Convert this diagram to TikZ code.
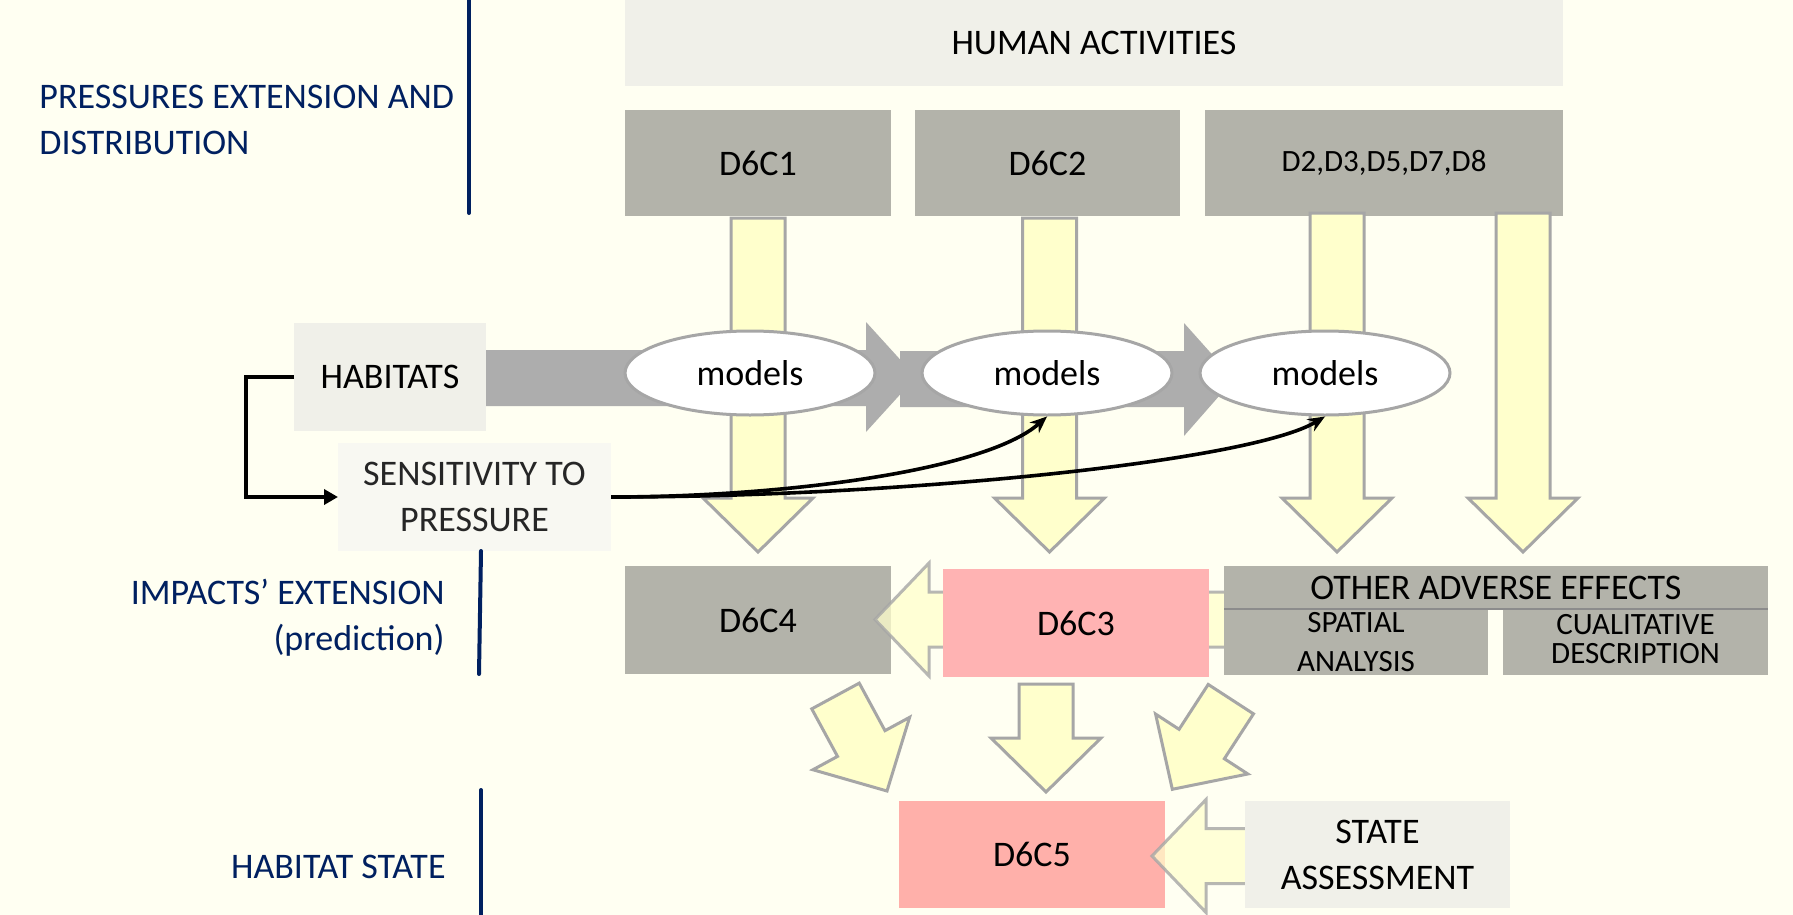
\documentclass[tikz,border=0pt]{standalone}
\usepackage{fontspec}
\setmainfont{Carlito}
\usetikzlibrary{arrows.meta,shapes.geometric}

\definecolor{bgcol}{HTML}{FFFFF2}
\definecolor{lightbox}{HTML}{F0F0E9}
\definecolor{sensfill}{HTML}{F8F8F2}
\definecolor{boxgray}{HTML}{B3B3AA}
\definecolor{pinkA}{HTML}{FFB3B3}
\definecolor{pinkB}{HTML}{FFB0AA}
\definecolor{flowgray}{HTML}{ADADAD}
\definecolor{yfill}{HTML}{FFFFCC}
\definecolor{yedge}{HTML}{A6A6A6}
\definecolor{navy}{HTML}{002060}

% block arrow pointing down: centre x, top y, tip y
\newcommand\vdownarrow[4][]{%
  \draw[yarrow,#1] (#2-27,#3) -- (#2+27,#3) -- (#2+27,#4-54) -- (#2+55,#4-54)
    -- (#2,#4) -- (#2-55,#4-54) -- (#2-27,#4-54) -- cycle;}
% block arrow pointing left: centre y, right x, tip x
\newcommand\hleftarrow[4][]{%
  \draw[yarrow,#1] (#3,#2-27.5) -- (#4+54,#2-27.5) -- (#4+54,#2-56.5)
    -- (#4,#2) -- (#4+54,#2+56.5) -- (#4+54,#2+27.5) -- (#3,#2+27.5) -- cycle;}

\tikzset{
  txt/.style={font=\fontsize{18}{23}\selectfont},
  rbox/.style={txt, inner sep=0pt, outer sep=0pt, align=center},
  graybox/.style={rbox, fill=boxgray},
  palebox/.style={rbox, fill=lightbox},
  small/.style={font=\fontsize{15.5}{19.5}\selectfont},
  model/.style={txt, ellipse, draw=yedge, line width=1.5pt, fill=white,
    minimum width=125pt, minimum height=42pt, inner sep=0pt},
  yarrow/.style={fill=yfill, draw=yedge, line width=1.5pt, line join=miter},
  flow/.style={fill=flowgray, draw=none},
  conn/.style={draw=black, line width=1.8pt},
  navyline/.style={draw=navy, line width=2pt, line cap=round},
  section/.style={txt, text=navy, inner sep=0pt},
}

\begin{document}
\begin{tikzpicture}[x=0.5pt,y=-0.5pt]
\useasboundingbox (0,0) rectangle (1793,915);
\fill[bgcol] (0,0) rectangle (1793,915);

% ---- pressures row
\node[palebox, minimum width=469pt, minimum height=43pt] (human) at (1094,43) {HUMAN ACTIVITIES};
\node[graybox, minimum width=133pt, minimum height=53pt] (d6c1) at (758,163) {D6C1};
\node[graybox, minimum width=132.5pt, minimum height=53pt] (d6c2) at (1047.5,163) {D6C2};
\node[graybox, small, minimum width=179pt, minimum height=53pt] (dother) at (1384,163) {D2,D3,D5,D7,D8};

% pressures flowing down to the impacts row
\vdownarrow{758}{218}{552}
\vdownarrow{1049.5}{218}{552}
\vdownarrow{1337}{213}{552}
\vdownarrow{1523}{213}{552}

% habitats flow through the models
\fill[flow] (486,350) -- (866,350) -- (866,322) -- (916,377) -- (866,432) -- (866,406) -- (486,406) -- cycle;
\fill[flow] (900,351) -- (1184,351) -- (1184,323) -- (1234,379) -- (1184,436) -- (1184,407) -- (900,407) -- cycle;

\node[model] (m1) at (750,373) {models};
\node[model] (m2) at (1047,373) {models};
\node[model] (m3) at (1325,373) {models};

\node[palebox, minimum width=96pt, minimum height=54pt] (hab) at (390,377) {HABITATS};
\node[rbox, fill=sensfill, text=black!85, minimum width=136.5pt, minimum height=54pt] (sens) at (474.5,497) {SENSITIVITY TO\\PRESSURE};

% connectors
\draw[conn, -{Triangle[length=7pt,width=7.5pt]}] (hab.west) -- ++(-48,0) |- (sens.west);
\draw[conn, -{Stealth[length=8.5pt,width=7pt]}] (sens.east) .. controls +(169,0) and +(-62,55) .. (m2.south);
\draw[conn, -{Stealth[length=8.5pt,width=7pt]}] (sens.east) .. controls +(289,0) and +(-75,45) .. (m3.south);

% ---- impacts row
\node[graybox, minimum width=133pt, minimum height=54pt] (d6c4) at (758,620) {D6C4};
\hleftarrow[fill opacity=0.75, draw opacity=0.8]{619.5}{1226}{875}
\node[rbox, fill=pinkA, minimum width=133pt, minimum height=54pt] (d6c3) at (1076,623) {D6C3};
\node[graybox, minimum width=272pt, minimum height=21.5pt] (other) at (1496,587.5) {OTHER ADVERSE EFFECTS};
\node[graybox, small, minimum width=132pt, minimum height=33pt] (spatial) at (1356,642) {SPATIAL\\ANALYSIS};
\node[graybox, font=\fontsize{15.5}{14.5}\selectfont, text depth=3.4pt, minimum width=132.5pt, minimum height=33pt] (cual) at (1635.5,642) {CUALITATIVE\\DESCRIPTION};
\draw[black!45, line width=0.7pt] (other.south west) -- (other.south east);

% impacts converging on the habitat state
\draw[yarrow] (811.76,708.87) -- (837.52,756.40) -- (812.91,769.74) -- (887,791)
  -- (909.61,717.32) -- (885.0,730.66) -- (859.24,683.13) -- cycle;
\vdownarrow{1046}{684}{792}
\draw[yarrow] (1208.21,684.44) -- (1179.07,729.31) -- (1155.59,714.06) -- (1172.3,789.3)
  -- (1247.83,773.98) -- (1224.35,758.73) -- (1253.49,713.86) -- cycle;

% ---- state row
\node[rbox, fill=pinkB, minimum width=133pt, minimum height=53.5pt] (d6c5) at (1032,854.5) {D6C5};
\hleftarrow[fill opacity=0.7, draw opacity=0.8]{856}{1250}{1152}
\node[palebox, minimum width=132.5pt, minimum height=53.5pt] (state) at (1377.5,854.5) {STATE\\ASSESSMENT};

% ---- section labels
\node[section, anchor=north west, align=left] (lab1) at (39,85) {PRESSURES EXTENSION AND\\DISTRIBUTION};
\node[section, anchor=north east, align=right] (lab2) at (445,579) {IMPACTS’ EXTENSION\\(prediction)};
\node[section, anchor=base east] (lab3) at (446,878) {HABITAT STATE};
\draw[navyline] (469,0) -- (469,213);
\draw[navyline] (481,551) -- (479,674);
\draw[navyline] (481,790) -- (481,915);
\end{tikzpicture}
\end{document}
